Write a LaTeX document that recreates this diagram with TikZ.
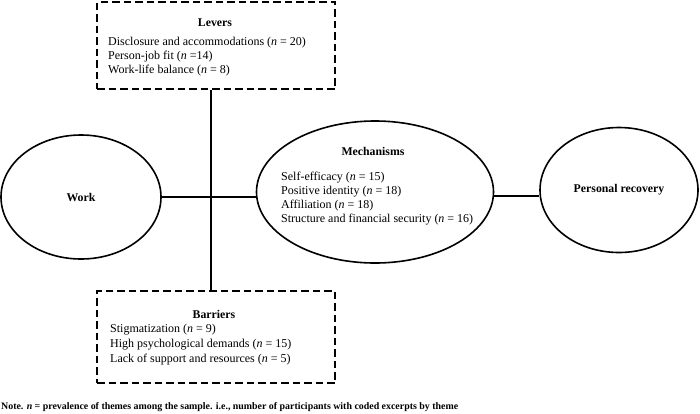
\documentclass[tikz,border=0pt]{standalone}
\usepackage{fontspec}
\setmainfont{Liberation Serif}
\usetikzlibrary{shapes.geometric}
\begin{document}
\begin{tikzpicture}[x=1pt,y=-1pt,
  oval/.style={draw,ellipse,line width=1.6pt,inner sep=0pt},
  dbox/.style={draw,line width=1.8pt,dash pattern=on 7.5pt off 4pt,inner sep=0pt},
  conn/.style={line width=1.6pt},
  ttl/.style={font=\fontsize{11.8}{13}\selectfont\bfseries,inner sep=0pt},
  body/.style={font=\fontsize{12}{14}\selectfont,align=left,inner sep=0pt,anchor=north west}]
\useasboundingbox[fill=white] (0,0) rectangle (700,413);
% ellipses
\node[oval,minimum width=160pt,minimum height=124pt] (work) at (81,197) {};
\node[ttl] at (work.center) {Work};
\node[oval,minimum width=237pt,minimum height=142pt] (mech) at (375,192) {};
\node[oval,minimum width=158pt,minimum height=125pt] (rec) at (619,190) {};
\node[ttl] at (rec.center) {Personal recovery};
% boxes
\node[dbox,minimum width=238pt,minimum height=87pt] (lev) at (216,45.5) {};
\node[dbox,minimum width=238pt,minimum height=92pt] (bar) at (216,337) {};
% texts
\node[ttl] (levt) at (215,23) {Levers};
\node[body] (levb) at (108,37) {Disclosure and accommodations (\textit{n} = 20)\\Person-job fit (\textit{n} =14)\\Work-life balance (\textit{n} = 8)};
\node[ttl] (bart) at (214,314) {Barriers};
\node[body,font=\fontsize{12}{15}\selectfont] (barb) at (110,324) {Stigmatization (\textit{n} = 9)\\High psychological demands (\textit{n} = 15)\\Lack of support and resources (\textit{n} = 5)};
\node[ttl] (mecht) at (373,151) {Mechanisms};
\node[body] (mechb) at (281,172) {Self-efficacy (\textit{n} = 15)\\Positive identity (\textit{n} = 18)\\Affiliation (\textit{n} = 18)\\Structure and financial security (\textit{n} = 16)};
% connectors
\coordinate (J) at (211,197);
\draw[conn] (work.east |- J) -- (J);
\draw[conn] (J) -- (mech.west |- J);
\draw[conn] (J |- lev.south) -- (J |- bar.north);
\coordinate (K) at (500,196);
\draw[conn] (mech.east |- K) -- (rec.west |- K);
% note
\node[anchor=west,inner sep=0pt,font=\fontsize{9.9}{11}\selectfont\bfseries] (note) at (1,407) {Note. \textit{n} = prevalence of themes among the sample. i.e., number of participants with coded excerpts by theme};
\end{tikzpicture}
\end{document}
